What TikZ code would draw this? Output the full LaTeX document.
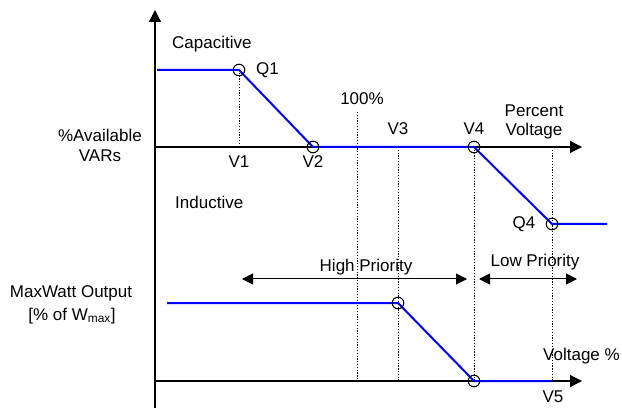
\documentclass[tikz,border=0pt]{standalone}
\usepackage{fontspec}
\setmainfont{Liberation Sans}
\usetikzlibrary{arrows.meta,positioning}

\tikzset{
  axis/.style={line width=1.2pt,-{Triangle[length=12pt,width=12pt]}},
  curve/.style={blue,line width=2pt},
  guide/.style={line width=1pt,dash pattern=on 1.3pt off 1.5pt},
  mark point/.style={line width=1pt},
  priority/.style={line width=1pt,{Triangle[length=11pt,width=11pt]}-{Triangle[length=11pt,width=11pt]}},
  lbl/.style={font=\fontsize{17}{20}\selectfont,inner sep=0pt,align=center}
}

\begin{document}
\begin{tikzpicture}[x=1pt,y=-1pt]
\useasboundingbox (0,0) rectangle (622,409);

% axes
\coordinate (origo) at (155,147);
\coordinate (wOrigo) at (155,381);
\coordinate (yBottom) at (155,408);
\coordinate (yTop) at (155,10);
\coordinate (vEnd) at (582,147);
\coordinate (wAxisEnd) at (582,381);

\draw[axis] (yBottom) -- (yTop);
\draw[axis] (origo) -- (vEnd);
\draw[axis] (wOrigo) -- (wAxisEnd);

% volt-var points
\coordinate (qStart) at (157,70);
\coordinate (Q1) at (239,70);
\coordinate (V1) at (239,147);
\coordinate (V2) at (313,147);
\coordinate (V3) at (398,147);
\coordinate (V4) at (474,147);
\coordinate (Q4) at (552,224);
\coordinate (qEnd) at (607,224);
\coordinate (Q4top) at (552,147);
\coordinate (nom) at (357,112);

% volt-watt points
\coordinate (wStart) at (167,303);
\coordinate (W3) at (398,303);
\coordinate (V5) at (474,381);
\coordinate (wEnd) at (552,381);
\coordinate (nomLow) at (357,381);
\coordinate (V3low) at (398,381);
\coordinate (Q4low) at (552,381);

% dotted guides
\draw[guide] (Q1) -- (V1);
\draw[guide] (nom) -- (nomLow);
\draw[guide] (V3) -- (V3low);
\draw[guide] (V4) -- (V5);
\draw[guide] (Q4top) -- (Q4low);

% curves
\draw[curve] (qStart) -- (Q1) -- (V2) -- (V4) -- (Q4) -- (qEnd);
\draw[curve] (wStart) -- (W3) -- (V5) -- (wEnd);

\foreach \p in {Q1,V2,V4,Q4,W3,V5}
  \draw[mark point] (\p) circle[radius=5.8pt];

% priority ranges
\coordinate (highL) at (242,279);
\coordinate (highR) at (467,279);
\coordinate (lowL) at (479,279);
\coordinate (lowR) at (577,279);
\draw[priority] (highL) -- (highR);
\draw[priority] (lowL) -- (lowR);

% labels
\node[lbl,anchor=base west] (capLbl) at (172,49) {Capacitive};
\node[lbl,anchor=base west] (indLbl) at (175,209) {Inductive};
\node[lbl,anchor=base west] (q1Lbl) at (256,75) {Q1};
\node[lbl,anchor=base] (varLbl) at (100,142) {\%Available};
\node[lbl,anchor=base] (varLblB) at (100,162) {VARs};
\node[lbl,anchor=base] (v1Lbl) at (239,168) {V1};
\node[lbl,anchor=base] (v2Lbl) at (313,168) {V2};
\node[lbl,anchor=base] (nomLbl) at (362,105) {100\%};
\node[lbl,anchor=base] (v3Lbl) at (398,135) {V3};
\node[lbl,anchor=base] (v4Lbl) at (474,135) {V4};
\node[lbl,anchor=base] (pctLbl) at (534,117) {Percent};
\node[lbl,anchor=base] (voltLbl) at (534,136) {Voltage};
\node[lbl,anchor=base] (q4Lbl) at (524,229) {Q4};
\node[lbl,anchor=base] (highLbl) at (366,272) {High Priority};
\node[lbl,anchor=base] (lowLbl) at (535,267) {Low Priority};
\node[lbl,anchor=base] (mwLbl) at (71,298) {MaxWatt Output};
\node[lbl,anchor=base] (mwLblB) at (72,320) {[\% of W\textsubscript{max}]};
\node[lbl,anchor=base west] (vpLbl) at (543,360) {Voltage \%};
\node[lbl,anchor=base] (v5Lbl) at (553,402) {V5};
\end{tikzpicture}
\end{document}
